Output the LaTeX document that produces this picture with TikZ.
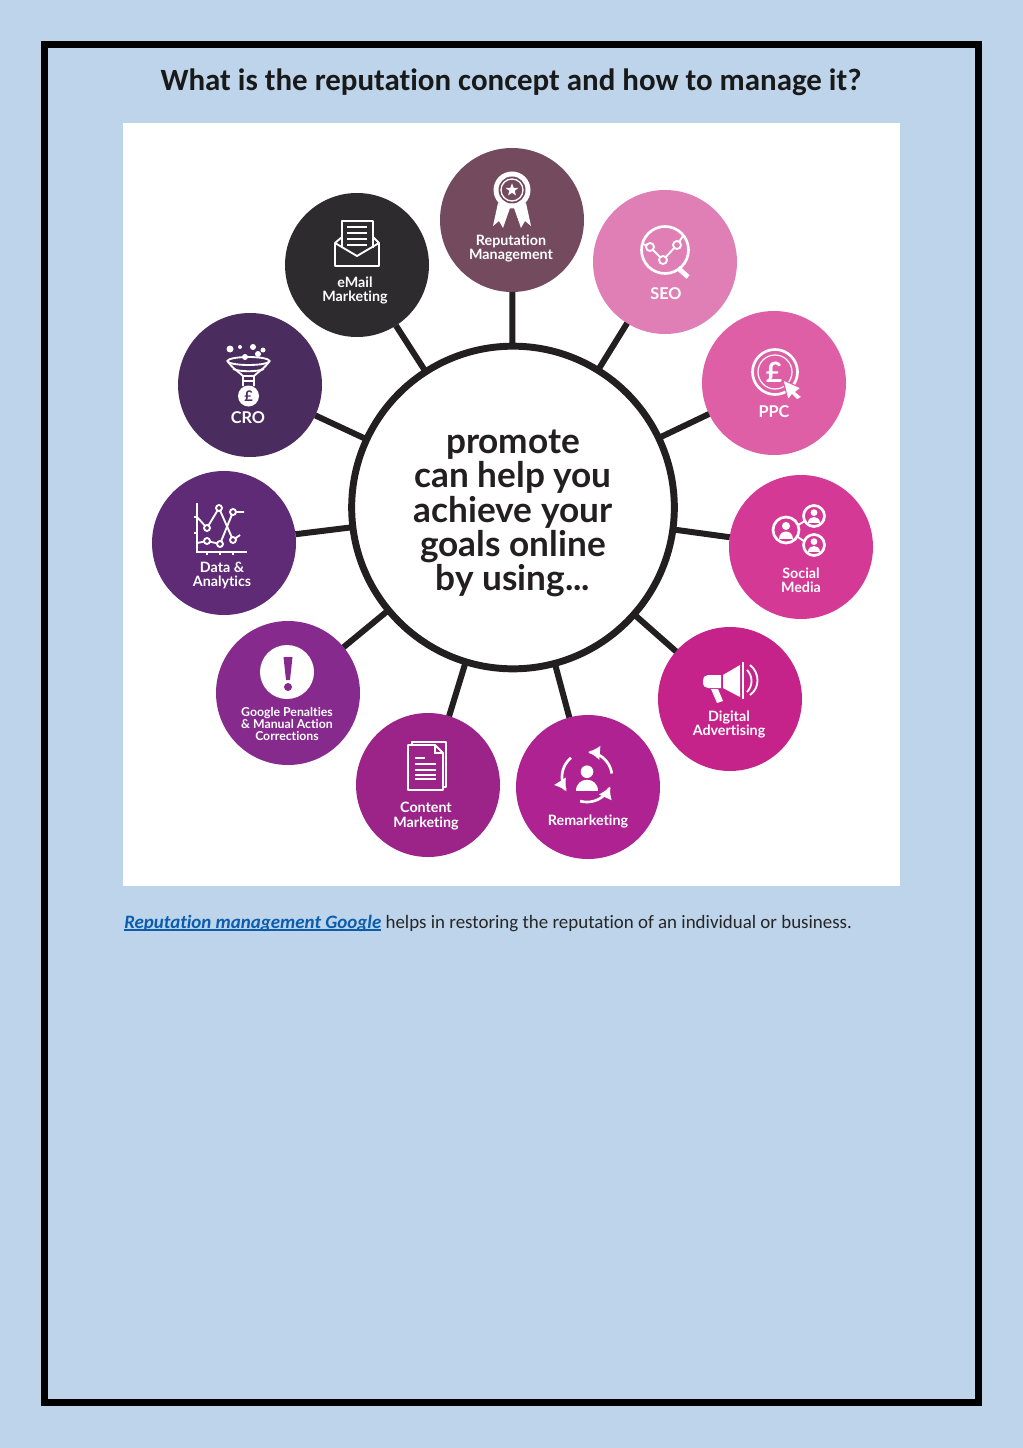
\documentclass[tikz,border=0pt]{standalone}
\usepackage{fontspec}
\setmainfont{Carlito}[Ligatures=NoCommon]
\newfontfamily\latofont{Lato}[Ligatures=NoCommon]
\usetikzlibrary{arrows.meta}
\usetikzlibrary{shapes.geometric}
\definecolor{pagebg}{HTML}{BDD4EB}
\definecolor{spokecol}{HTML}{231F20}
\definecolor{linkblue}{HTML}{0B5CAD}
\definecolor{repcol}{HTML}{744B5E}
\definecolor{seocol}{HTML}{E07FB6}
\definecolor{ppccol}{HTML}{DE5FA6}
\definecolor{socialcol}{HTML}{D43A95}
\definecolor{digitalcol}{HTML}{C5238A}
\definecolor{remarkcol}{HTML}{AE2391}
\definecolor{contentcol}{HTML}{9C2489}
\definecolor{googlecol}{HTML}{862A8E}
\definecolor{datacol}{HTML}{5F2A76}
\definecolor{crocol}{HTML}{4A2C5E}
\definecolor{emailcol}{HTML}{2D2B2E}
\tikzset{
  topic/.style={circle,minimum size=108pt,inner sep=0pt,outer sep=0pt},
  spoke/.style={draw=spokecol,line width=4.5pt},
  topiclabel/.style={text=white,align=center,inner sep=0pt,
    font=\latofont\bfseries\fontsize{10.7}{10.6}\selectfont},
  shortlabel/.style={topiclabel,font=\latofont\bfseries\fontsize{12.2}{12}\selectfont},
  icon/.style={draw=white,line width=2pt},
  thinicon/.style={draw=white,line width=1.4pt},
}
\newsavebox{\linkbox}
\newcommand{\linktext}[1]{\sbox{\linkbox}{\textbf{\textit{#1}}}\rlap{\rule[-2.1pt]{\wd\linkbox}{1pt}}\usebox{\linkbox}}
\newcommand{\personicon}[3]{% x, y, size
  \fill[white] (#1,#2-#3*0.45) circle ({#3*0.45});
  \fill[white] (#1-#3*0.8,#2+#3*0.95) .. controls (#1-#3*0.8,#2-#3*0.15) and (#1+#3*0.8,#2-#3*0.15) .. (#1+#3*0.8,#2+#3*0.95) -- cycle;
}
\begin{document}
\begin{tikzpicture}[x=0.75pt,y=-0.75pt]
    \fill[pagebg] (0,0) rectangle (1023,1448);
    \useasboundingbox (0,0) rectangle (1023,1448);
    \draw[black,line width=5.4pt] (44.6,44.6) rectangle (978.4,1402.6);
    \fill[white] (123,123) rectangle (900,886);
    \node[font=\bfseries\fontsize{23.2}{26}\selectfont,text=black!90,inner sep=0pt] (title) at (511,82) {What is the reputation concept and how to manage it?};

    % hub and topics
    \node[circle,draw=spokecol,line width=5.2pt,minimum size=242pt,inner sep=0pt,outer sep=0pt] (hub) at (513,507.5) {};
    \node[align=center,text=spokecol,inner sep=0pt,font=\latofont\bfseries\fontsize{26.4}{25.7}\selectfont] (hubtext) at (513,513.5) {promote\\can help you\\achieve your\\goals online\\by using...};
    \node[topic,fill=repcol] (rep) at (512,220) {};
    \node[topic,fill=seocol] (seo) at (665,262) {};
    \node[topic,fill=ppccol] (ppc) at (774,383) {};
    \node[topic,fill=socialcol] (social) at (801,547) {};
    \node[topic,fill=digitalcol] (digital) at (730,699) {};
    \node[topic,fill=remarkcol] (remark) at (588,787) {};
    \node[topic,fill=contentcol] (content) at (428,785) {};
    \node[topic,fill=googlecol] (google) at (288,693) {};
    \node[topic,fill=datacol] (data) at (224,543) {};
    \node[topic,fill=crocol] (cro) at (250,385) {};
    \node[topic,fill=emailcol] (email) at (357,265) {};
    \foreach \t in {rep,seo,ppc,social,digital,remark,content,google,data,cro,email}
      \draw[spoke] (hub) -- (\t);

    % labels
    \node[topiclabel] (replabel) at (511,248.5) {Reputation\\Management};
    \node[topiclabel] (emaillabel) at (355,290.5) {eMail\\Marketing};
    \node[shortlabel] (seolabel) at (666,294) {SEO};
    \node[shortlabel] (ppclabel) at (774,412) {PPC};
    \node[topiclabel] (sociallabel) at (801,580) {Social\\Media};
    \node[topiclabel] (digitallabel) at (729,724.5) {Digital\\Advertising};
    \node[topiclabel] (remarklabel) at (588,821.5) {Remarketing};
    \node[topiclabel] (contentlabel) at (426,816) {Content\\Marketing};
    \node[topiclabel,font=\latofont\bfseries\fontsize{9.2}{9.3}\selectfont] (googlelabel) at (287,724) {Google Penalties\\\& Manual Action\\Corrections};
    \node[topiclabel] (datalabel) at (222,575.5) {Data \&\\Analytics};
    \node[shortlabel] (crolabel) at (248,418) {CRO};

    % reputation icon
    \fill[white] (512,190) circle (18.5);
    \fill[repcol] (512,190) circle (13.5);
    \draw[thinicon,line width=1pt] (512,190) circle (11);
    \node[star,star points=5,star point ratio=2.4,fill=white,inner sep=0pt,minimum size=10pt] (repstar) at (512,190) {};
    \fill[white] (498,203) -- (510,208) -- (503,228) -- (499,221) -- (493,226) -- cycle;
    \fill[white] (526,203) -- (514,208) -- (521,228) -- (525,221) -- (531,226) -- cycle;

    % email icon
    \draw[thinicon,line join=round] (342,237) -- (335,243) -- (335,266) -- (379,266) -- (379,243) -- (373,237);
    \draw[thinicon,line join=round] (342,248) -- (342,221) -- (373,221) -- (373,248);
    \draw[thinicon,line join=round] (335,243) -- (357,256) -- (379,243);
    \foreach \y in {227,233,239,245}
      \draw[thinicon] (347,\y) -- (367,\y);

    % seo icon
    \draw[icon] (665,250) circle (23.5);
    \draw[icon,line width=3.6pt] (678,268) -- (688,277);
    \draw[thinicon] (643,244) -- (650,247) -- (663,260) -- (677,245) -- (683,236);
    \foreach \p in {(650,247),(663,260),(677,245)}
      \draw[thinicon,fill=seocol] \p circle (4);

    % ppc icon
    \draw[icon] (775,372) circle (22.5);
    \draw[thinicon,line width=0.9pt] (775,372) circle (17);
    \node[text=white,inner sep=0pt,font=\latofont\bfseries\fontsize{21}{21}\selectfont] (pound) at (774,372) {£};
    \fill[white,draw=ppccol,line width=0.8pt] (783,380) -- (801,388) -- (796,392) -- (802,397) -- (797,400) -- (792,395) -- (788,400) -- cycle;

    % social icon
    \draw[icon] (786,530) circle (13);
    \draw[icon] (814,516) circle (10.5);
    \draw[icon] (814,545) circle (10.5);
    \draw[thinicon] (798,525) -- (805,521);
    \draw[thinicon] (798,537) -- (805,542);
    \personicon{786}{530}{9}
    \personicon{814}{516}{7.5}
    \personicon{814}{545}{7.5}

    % digital icon
    \fill[white] (703,682) .. controls (703,677) and (705,675) .. (708,675) -- (721,675) -- (721,688) -- (708,688) .. controls (705,688) and (703,686) .. (703,682) -- cycle;
    \fill[white] (723,675) -- (740,665) -- (740,697) -- (723,688) -- cycle;
    \fill[white] (711,689) -- (718,689) -- (723,701) -- (717,703) -- cycle;
    \draw[thinicon] (743,662) -- (743,699);
    \draw[thinicon] (747,670) .. controls (753,676) and (753,686) .. (747,692);
    \draw[thinicon] (750,665) .. controls (760,673) and (760,688) .. (750,695);

    % remarketing icon
    \personicon{587}{778}{14}
    \draw[icon,-{Latex[length=9pt,width=11pt]}] plot[domain=-8:-88,samples=20] ({587+25*cos(\x)},{777+25*sin(\x)});
    \draw[icon,-{Latex[length=9pt,width=11pt]}] plot[domain=-130:-215,samples=20] ({587+25*cos(\x)},{777+25*sin(\x)});
    \draw[icon,-{Latex[length=9pt,width=11pt]}] plot[domain=106:22,samples=20] ({587+25*cos(\x)},{777+25*sin(\x)});

    % content icon
    \draw[thinicon,line join=round] (412,745) -- (412,742) -- (446,742) -- (446,787) -- (443,787);
    \draw[thinicon,line join=round,fill=contentcol] (408,745) -- (435,745) -- (443,753) -- (443,790) -- (408,790) -- cycle;
    \draw[thinicon] (435,745) -- (435,753) -- (443,753);
    \draw[thinicon] (415,758) -- (425,758);
    \foreach \y in {764,770,775,779}
      \draw[thinicon] (415,\y) -- (436,\y);

    % google icon
    \fill[white] (287,672) circle (27);
    \fill[googlecol] (283.5,657) -- (292.5,657) -- (290,680) -- (286,680) -- cycle;
    \fill[googlecol] (288,687) circle (4);

    % data icon
    \draw[icon] (197,503) -- (197,552) -- (247,552);
    \draw[thinicon] (197,517) -- (207,528) -- (219,508) -- (233,540) -- (240,535);
    \draw[thinicon] (197,543) -- (207,541) -- (220,544) -- (233,512) -- (244,512);
    \foreach \x in {207,220,233}
      \draw[thinicon] (\x,552) -- (\x,555);
    \foreach \y in {517,533}
      \draw[thinicon] (197,\y) -- (194,\y);
    \foreach \p in {(207,528),(219,508),(233,540),(207,541),(220,544),(233,512)}
      \draw[thinicon,fill=datacol] \p circle (3);

    % cro icon
    \foreach \p/\r in {(230,349)/3.5,(240,347)/2,(253,347)/3,(263,350)/2.5,(258,354)/3,(245,357)/3}
      \fill[white] \p circle (\r);
    \draw[thinicon] (248.5,361) ellipse (21 and 4);
    \draw[thinicon,line join=round] (227.5,361) .. controls (232,368) and (239,372) .. (243,376) -- (243,386);
    \draw[thinicon,line join=round] (269.5,361) .. controls (265,368) and (258,372) .. (254,376) -- (254,386);
    \draw[thinicon] (233,369) .. controls (240,372) and (257,372) .. (264,369);
    \draw[thinicon] (243,376) -- (254,376);
    \draw[thinicon] (243,381) -- (254,381);
    \fill[white] (248.5,396) circle (10.5);
    \node[text=crocol,inner sep=0pt,font=\latofont\bfseries\fontsize{11}{11}\selectfont] (crocoin) at (248.5,396) {£};

    % caption
    \node[anchor=base west,inner sep=0pt,text=black!85,font=\fontsize{14.2}{16}\selectfont] (caption) at (124,928) {\textcolor{linkblue}{\linktext{Reputation management Google}} helps in restoring the reputation of an individual or business.};
\end{tikzpicture}
\end{document}
